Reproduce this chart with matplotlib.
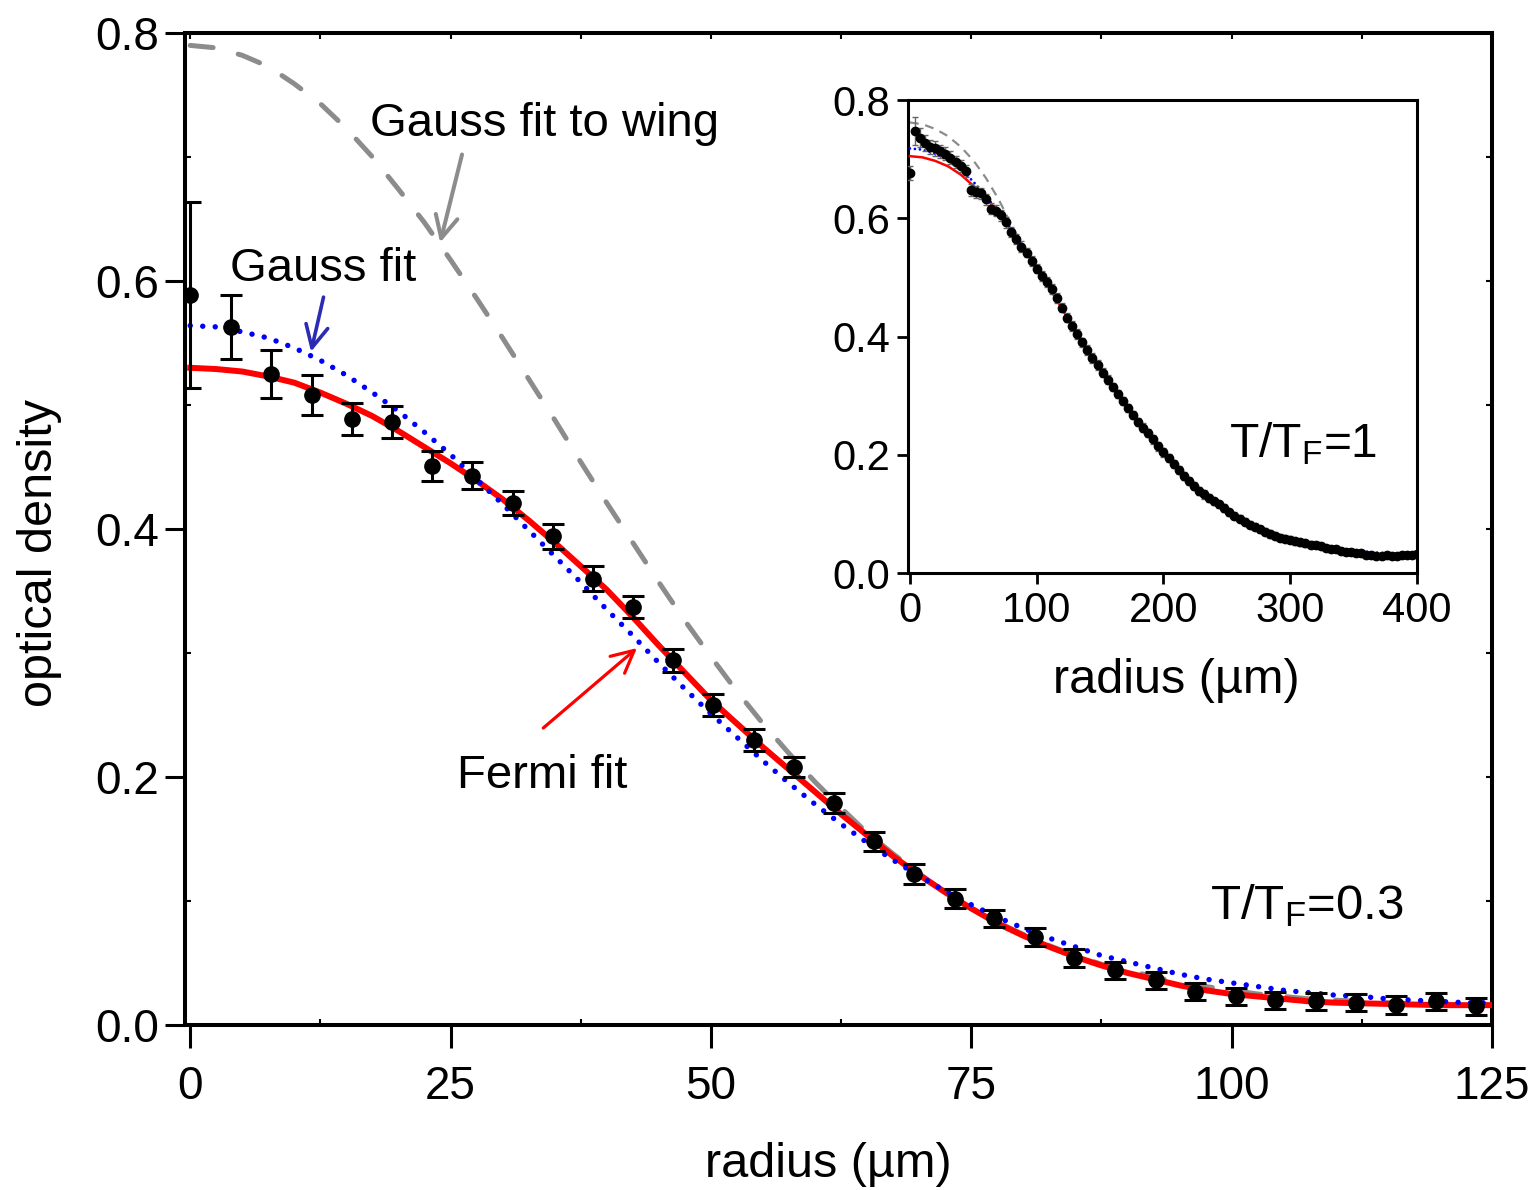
import numpy as np
import matplotlib
matplotlib.use("Agg")
import matplotlib.pyplot as plt
from matplotlib.ticker import MultipleLocator, FormatStrFormatter

plt.rcParams['font.family'] = ['Liberation Sans', 'DejaVu Sans']
plt.rcParams['mathtext.fontset'] = 'custom'
plt.rcParams['mathtext.rm'] = 'Liberation Sans'
plt.rcParams['mathtext.it'] = 'Liberation Sans:italic'
plt.rcParams['mathtext.bf'] = 'Liberation Sans:bold'

# ---- main panel: T/T_F = 0.3 radial profile ----
radius = [0.0, 3.9, 7.8, 11.7, 15.5, 19.4, 23.2, 27.1, 31.0, 34.8, 38.7,
          42.5, 46.4, 50.2, 54.1, 58.0, 61.8, 65.7, 69.5, 73.4, 77.2, 81.1,
          84.9, 88.8, 92.7, 96.5, 100.4, 104.2, 108.1, 111.9, 115.8, 119.6, 123.5]
od = [0.589, 0.563, 0.525, 0.508, 0.489, 0.486, 0.451, 0.443, 0.421, 0.394,
      0.360, 0.337, 0.294, 0.258, 0.230, 0.208, 0.179, 0.148, 0.122, 0.102,
      0.086, 0.071, 0.054, 0.044, 0.036, 0.027, 0.023, 0.020, 0.019, 0.018,
      0.016, 0.019, 0.015]
od_err = [0.075, 0.026, 0.019, 0.016, 0.013, 0.013, 0.012, 0.011, 0.010, 0.010,
          0.010, 0.009, 0.009, 0.009, 0.009, 0.008, 0.008, 0.008, 0.008, 0.008,
          0.007, 0.007, 0.007, 0.007, 0.007, 0.007, 0.007, 0.007, 0.007, 0.007,
          0.007, 0.007, 0.007]

fit_r = np.arange(0, 125.1, 2.5)
fermi_fit = [0.530, 0.529, 0.527, 0.523, 0.518, 0.510, 0.501, 0.491, 0.479, 0.466,
             0.453, 0.439, 0.424, 0.407, 0.389, 0.370, 0.351, 0.329, 0.306, 0.284,
             0.262, 0.243, 0.224, 0.206, 0.188, 0.170, 0.153, 0.136, 0.121, 0.107,
             0.094, 0.082, 0.072, 0.063, 0.055, 0.048, 0.042, 0.037, 0.032, 0.028,
             0.025, 0.023, 0.021, 0.019, 0.018, 0.0175, 0.017, 0.0165, 0.016, 0.016,
             0.016]
gauss_fit = [0.564, 0.563, 0.559, 0.554, 0.546, 0.536, 0.524, 0.510, 0.495, 0.478,
             0.460, 0.440, 0.420, 0.399, 0.378, 0.357, 0.335, 0.314, 0.292, 0.271,
             0.251, 0.232, 0.213, 0.195, 0.178, 0.162, 0.147, 0.133, 0.120, 0.108,
             0.097, 0.087, 0.078, 0.070, 0.063, 0.056, 0.051, 0.046, 0.041, 0.037,
             0.034, 0.031, 0.028, 0.026, 0.024, 0.023, 0.021, 0.020, 0.019, 0.018,
             0.018]
wing_fit = [0.790, 0.788, 0.782, 0.773, 0.759, 0.743, 0.723, 0.700, 0.674, 0.647,
            0.617, 0.586, 0.554, 0.521, 0.488, 0.454, 0.421, 0.389, 0.357, 0.326,
            0.297, 0.269, 0.243, 0.219, 0.196, 0.175, 0.155, 0.138, 0.122, 0.107,
            0.094, 0.083, 0.073, 0.064, 0.056, 0.049, 0.044, 0.039, 0.034, 0.031,
            0.028, 0.025, 0.023, 0.021, 0.020, 0.019, 0.018, 0.017, 0.017, 0.016,
            0.016]

# ---- inset: T/T_F = 1 radial profile ----
in_r = np.arange(0, 401, 4)
in_od = [0.676, 0.748, 0.736, 0.727, 0.720, 0.718, 0.713, 0.709, 0.702, 0.695,
         0.688, 0.680, 0.648, 0.645, 0.642, 0.632, 0.616, 0.613, 0.605, 0.593,
         0.577, 0.565, 0.552, 0.542, 0.528, 0.515, 0.502, 0.492, 0.480, 0.465,
         0.449, 0.432, 0.418, 0.404, 0.390, 0.377, 0.364, 0.352, 0.339, 0.327,
         0.315, 0.303, 0.291, 0.279, 0.267, 0.256, 0.246, 0.237, 0.226, 0.214,
         0.204, 0.194, 0.184, 0.174, 0.164, 0.155, 0.147, 0.139, 0.133, 0.127,
         0.121, 0.116, 0.110, 0.103, 0.097, 0.092, 0.087, 0.082, 0.078, 0.074,
         0.070, 0.066, 0.063, 0.060, 0.058, 0.056, 0.054, 0.052, 0.050, 0.048,
         0.047, 0.045, 0.043, 0.041, 0.040, 0.038, 0.036, 0.035, 0.034, 0.033,
         0.031, 0.030, 0.029, 0.028, 0.030, 0.029, 0.028, 0.030, 0.031, 0.030,
         0.032]
in_err = [0.012, 0.024, 0.016, 0.013, 0.012, 0.012, 0.011, 0.011, 0.011, 0.010,
          0.010, 0.010, 0.010, 0.010, 0.010, 0.009, 0.009, 0.009, 0.009, 0.009,
          0.009, 0.009, 0.009, 0.008, 0.008, 0.008, 0.008, 0.008, 0.008, 0.008,
          0.008, 0.008, 0.008, 0.008, 0.008, 0.008, 0.008, 0.008, 0.008, 0.008,
          0.007, 0.007, 0.007, 0.007, 0.007, 0.007, 0.007, 0.007, 0.007, 0.007,
          0.007, 0.007, 0.007, 0.007, 0.007, 0.007, 0.007, 0.007, 0.007, 0.007,
          0.006, 0.006, 0.006, 0.006, 0.006, 0.006, 0.006, 0.006, 0.006, 0.006,
          0.006, 0.006, 0.006, 0.006, 0.006, 0.006, 0.006, 0.006, 0.006, 0.006,
          0.005, 0.005, 0.005, 0.005, 0.005, 0.005, 0.005, 0.005, 0.005, 0.005,
          0.005, 0.005, 0.005, 0.005, 0.005, 0.005, 0.005, 0.005, 0.005, 0.005,
          0.005]

in_fit_r = np.arange(0, 401, 10)
in_fermi = [0.705, 0.703, 0.697, 0.688, 0.674, 0.655, 0.634, 0.610, 0.580, 0.548,
            0.515, 0.482, 0.447, 0.412, 0.378, 0.345, 0.314, 0.284, 0.256, 0.229,
            0.204, 0.180, 0.158, 0.138, 0.121, 0.106, 0.093, 0.081, 0.071, 0.063,
            0.056, 0.051, 0.047, 0.042, 0.038, 0.035, 0.032, 0.030, 0.029, 0.029,
            0.029]
in_gauss = [0.718, 0.716, 0.709, 0.698, 0.683, 0.662, 0.637, 0.611, 0.581, 0.549,
            0.516, 0.482, 0.447, 0.411, 0.377, 0.344, 0.313, 0.283, 0.255, 0.228,
            0.203, 0.180, 0.159, 0.140, 0.123, 0.108, 0.095, 0.084, 0.074, 0.066,
            0.059, 0.053, 0.048, 0.044, 0.041, 0.038, 0.036, 0.034, 0.033, 0.032,
            0.031]
in_wing = [0.762, 0.759, 0.751, 0.739, 0.721, 0.698, 0.668, 0.632, 0.589, 0.550,
           0.515, 0.482, 0.447, 0.412, 0.378, 0.345, 0.314, 0.284, 0.256, 0.229,
           0.204, 0.180, 0.158, 0.138, 0.121, 0.106, 0.093, 0.081, 0.071, 0.063,
           0.056, 0.051, 0.047, 0.042, 0.038, 0.035, 0.032, 0.030, 0.029, 0.029,
           0.029]

RED = '#ff0000'
BLUE = '#0000ff'
GREY = '#8c8c8c'
ARROW_BLUE = '#2b2bb5'

W, H = 1538, 1190
fig = plt.figure(figsize=(W / 100, H / 100), dpi=100)

# main axes
ax = fig.add_axes([185 / W, 1 - 1025 / H, (1492 - 185) / W, (1025 - 33) / H])
ax.set_xlim(-0.5, 125)
ax.set_ylim(0, 0.8)

ax.plot(fit_r, wing_fit, color=GREY, lw=3.6, linestyle=(0, (4.6, 5.2)),
        dash_capstyle='round', zorder=2)
ax.plot(fit_r, fermi_fit, color=RED, lw=4.3, zorder=3)
ax.plot(fit_r, gauss_fit, color=BLUE, lw=3.9, linestyle=(0, (0.01, 2.3)),
        dash_capstyle='round', zorder=4)
ax.errorbar(radius, od, yerr=od_err, fmt='o', color='black', ms=11,
            elinewidth=2.2, capsize=8, capthick=2.2, zorder=5)

for s in ax.spines.values():
    s.set_linewidth(2.9)
ax.set_xticks([0, 25, 50, 75, 100, 125])
ax.set_yticks([0.0, 0.2, 0.4, 0.6, 0.8])
ax.yaxis.set_major_formatter(FormatStrFormatter('%.1f'))
ax.xaxis.set_minor_locator(MultipleLocator(12.5))
ax.yaxis.set_minor_locator(MultipleLocator(0.1))
ax.tick_params(axis='x', which='major', direction='out', length=16.5, width=2.2,
               pad=12, labelsize=33)
ax.tick_params(axis='y', which='major', direction='out', length=14.4, width=2.2,
               pad=4, labelsize=33)
ax.tick_params(which='minor', direction='in', length=4, width=1.5)

# small inward ticks along the top and right frame
sec_x = ax.secondary_xaxis('top')
sec_x.set_xticks(np.arange(0, 126, 12.5))
sec_x.tick_params(direction='in', length=4, width=1.5, labeltop=False)
sec_y = ax.secondary_yaxis('right')
sec_y.set_yticks(np.arange(0, 0.81, 0.1))
sec_y.tick_params(direction='in', length=4, width=1.5, labelright=False)
for sa in (sec_x, sec_y):
    for s in sa.spines.values():
        s.set_visible(False)

ax.set_xlabel('radius (µm)', fontsize=35)
ax.xaxis.set_label_coords(0.492, -0.118)
ax.set_ylabel('optical density', fontsize=35)
ax.yaxis.set_label_coords(-0.094, 0.476)

# annotations
ax.text(17.3, 0.717, 'Gauss fit to wing', fontsize=34, ha='left', va='baseline')
ax.text(3.84, 0.600, 'Gauss fit', fontsize=34, ha='left', va='baseline')
ax.text(25.6, 0.191, 'Fermi fit', fontsize=34, ha='left', va='baseline')
ax.text(97.9, 0.085, r'T/T$_\mathrm{F}$=0.3', fontsize=35.5, ha='left', va='baseline')

ax.annotate('', xy=(24.0, 0.631), xytext=(26.1, 0.702),
            arrowprops=dict(arrowstyle='->,head_length=0.4,head_width=0.2',
                            color=GREY, lw=2.9, shrinkA=0, shrinkB=0,
                            mutation_scale=40))
ax.annotate('', xy=(11.6, 0.543), xytext=(12.8, 0.587),
            arrowprops=dict(arrowstyle='->,head_length=0.4,head_width=0.2',
                            color=ARROW_BLUE, lw=2.6, shrinkA=0, shrinkB=0,
                            mutation_scale=40))
ax.annotate('', xy=(42.9, 0.304), xytext=(33.9, 0.2395),
            arrowprops=dict(arrowstyle='->,head_length=0.4,head_width=0.2',
                            color=RED, lw=2.3, shrinkA=0, shrinkB=0,
                            mutation_scale=40))

# inset axes
ax2 = fig.add_axes([908 / W, 1 - 573 / H, 509 / W, 473 / H])
ax2.set_xlim(-1.5, 400)
ax2.set_ylim(0, 0.8)
ax2.plot(in_fit_r, in_wing, color=GREY, lw=1.6, linestyle=(0, (4, 3)), zorder=2)
ax2.plot(in_fit_r, in_fermi, color=RED, lw=1.8, zorder=3)
ax2.plot(in_fit_r, in_gauss, color=BLUE, lw=2.0, linestyle=(0, (0.01, 1.8)),
         dash_capstyle='round', zorder=4)
ax2.errorbar(in_r, in_od, yerr=in_err, fmt='o', color='black', ms=6,
             ecolor='0.4', elinewidth=1.0, capsize=2.5, capthick=1.0, zorder=5)
for s in ax2.spines.values():
    s.set_linewidth(2.2)
ax2.set_xticks([0, 100, 200, 300, 400])
ax2.set_yticks([0.0, 0.2, 0.4, 0.6, 0.8])
ax2.yaxis.set_major_formatter(FormatStrFormatter('%.1f'))
ax2.tick_params(direction='out', length=8, width=2.0, pad=5, labelsize=30)
ax2.set_xlabel('radius (µm)', fontsize=35)
ax2.xaxis.set_label_coords(0.527, -0.18)
ax2.text(251.6, 0.196, r'T/T$_\mathrm{F}$=1', fontsize=34.5, ha='left', va='baseline')

fig.savefig('out.png', dpi=100)
